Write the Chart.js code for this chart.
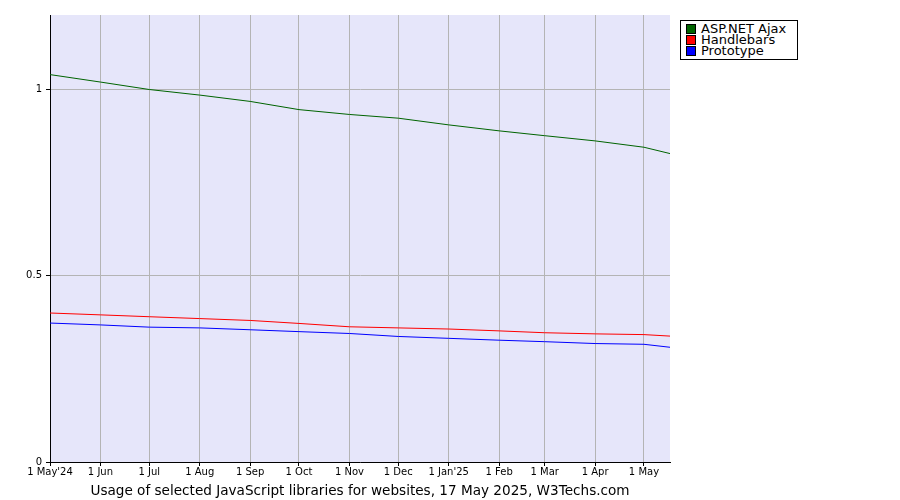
<!DOCTYPE html>
<html>
<head>
<meta charset="utf-8">
<script src="https://cdn.jsdelivr.net/npm/chart.js@4/dist/chart.umd.min.js"></script>
<style>
body { margin: 0; background: #fff; }
#wrap { position: relative; width: 900px; height: 500px; }
#leyenda { position: absolute; left: 680px; top: 20px; width: 116px; border: 1px solid #000; background: #fff;
  font: 13px "DejaVu Sans", sans-serif; line-height: 11px; padding: 2px 0 3px 0; }
#leyenda div { padding-left: 5px; white-space: nowrap; }
#leyenda span { display: inline-block; width: 8px; height: 8px; border: 1px solid #000; margin-right: 5px; vertical-align: -1px; }
</style>
</head>
<body>
<div id="wrap">
<canvas id="miGrafica" width="900" height="500"></canvas>
<div id="leyenda"></div>
</div>
<script>
// dias desde el 1 May 2024
const dias = [0, 31, 61, 92, 123, 153, 184, 214, 245, 276, 304, 335, 365, 381];
const etiquetasMes = ["1 May'24", "1 Jun", "1 Jul", "1 Aug", "1 Sep", "1 Oct", "1 Nov", "1 Dec", "1 Jan'25", "1 Feb", "1 Mar", "1 Apr", "1 May"];
const aspnet = [1.04, 1.02, 1.0, 0.985, 0.968, 0.946, 0.933, 0.923, 0.905, 0.889, 0.876, 0.862, 0.845, 0.828];
const handlebars = [0.400, 0.395, 0.390, 0.385, 0.380, 0.372, 0.363, 0.360, 0.357, 0.352, 0.347, 0.344, 0.342, 0.338];
const prototype = [0.373, 0.368, 0.362, 0.360, 0.355, 0.350, 0.345, 0.337, 0.332, 0.327, 0.323, 0.318, 0.316, 0.308];
const etiquetasY = ["0", "0.5", "1"];

const series = [
    { nombre: "ASP.NET Ajax", valores: aspnet, color: "#006400" },
    { nombre: "Handlebars", valores: handlebars, color: "#ff0000" },
    { nombre: "Prototype", valores: prototype, color: "#0000ff" }
];

document.getElementById("leyenda").innerHTML = series.map(s =>
    `<div><span style="background:${s.color}"></span>${s.nombre}</div>`).join("");

const fondo = {
    id: "fondo",
    beforeDraw(chart) {
        const a = chart.chartArea, ctx = chart.ctx;
        ctx.save();
        ctx.fillStyle = "#e6e6fa";
        ctx.fillRect(a.left, a.top, a.right - a.left, a.bottom - a.top);
        ctx.restore();
    }
};

const fuente = { family: "DejaVu Sans", size: 10 };

new Chart(document.getElementById("miGrafica").getContext("2d"), {
    type: "line",
    data: {
        datasets: series.map(s => ({
            label: s.nombre,
            data: s.valores.map((v, i) => ({ x: dias[i], y: v })),
            borderColor: s.color,
            borderWidth: 1,
            pointRadius: 0,
            tension: 0
        }))
    },
    plugins: [fondo],
    options: {
        responsive: false,
        animation: false,
        layout: { padding: { top: 15, right: 230, left: 0, bottom: 0 } },
        plugins: { legend: { display: false }, tooltip: { enabled: false } },
        scales: {
            x: {
                type: "linear", min: 0, max: 381,
                afterBuildTicks: ax => { ax.ticks = dias.slice(0, 13).map(v => ({ value: v })); },
                afterFit: ax => { ax.height = 38; },
                ticks: { color: "#000", font: fuente, maxRotation: 0, autoSkip: false, padding: 0,
                    callback: (v, i) => etiquetasMes[i] },
                grid: { color: "#b4b4b4", tickLength: 4, tickColor: "#000" },
                border: { color: "#000" },
                title: { display: true, text: "Usage of selected JavaScript libraries for websites, 17 May 2025, W3Techs.com",
                    color: "#000", font: { family: "DejaVu Sans", size: 13.6 }, padding: { top: 1, bottom: 0 } }
            },
            y: {
                min: 0, max: 1.2,
                afterBuildTicks: ax => { ax.ticks = [0, 0.5, 1].map(v => ({ value: v })); },
                afterFit: ax => { ax.width = 50; },
                ticks: { color: "#000", font: fuente, padding: 4, callback: (v, i) => etiquetasY[i] },
                grid: { color: "#b4b4b4", tickLength: 4, tickColor: "#000" },
                border: { color: "#000" }
            }
        }
    }
});
</script>
</body>
</html>
